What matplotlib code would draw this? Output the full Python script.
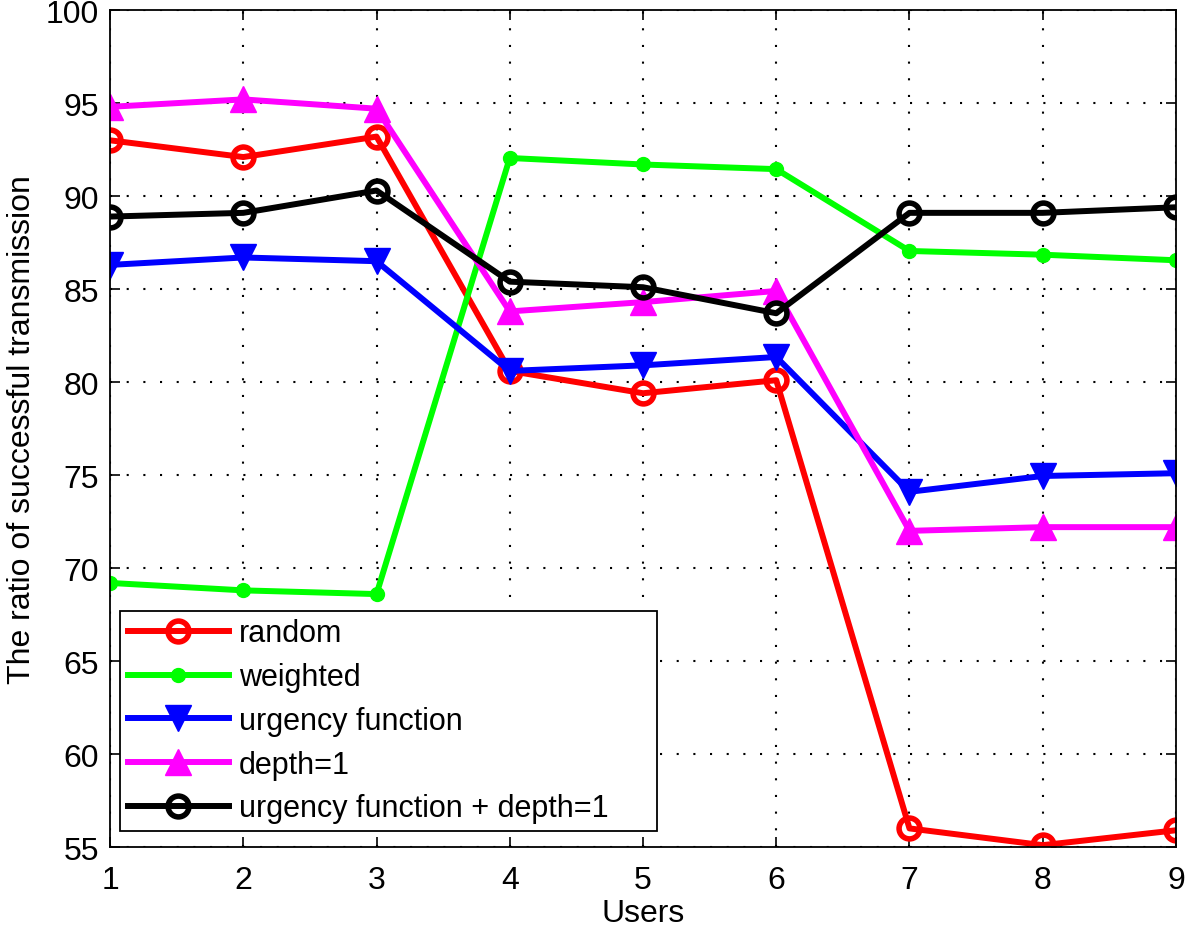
import matplotlib
matplotlib.use("Agg")
import matplotlib.pyplot as plt
import numpy as np

users = [1, 2, 3, 4, 5, 6, 7, 8, 9]
random_vals = [93.0, 92.1, 93.2, 80.6, 79.4, 80.1, 56.0, 55.1, 55.9]
weighted_vals = [69.2, 68.8, 68.6, 92.05, 91.7, 91.45, 87.05, 86.85, 86.55]
urgency_vals = [86.3, 86.7, 86.5, 80.6, 80.9, 81.35, 74.1, 74.95, 75.1]
depth_vals = [94.8, 95.2, 94.7, 83.8, 84.3, 84.9, 72.0, 72.2, 72.2]
urgency_depth_vals = [88.9, 89.1, 90.3, 85.4, 85.1, 83.7, 89.1, 89.1, 89.4]

plt.rcParams['font.family'] = ['Liberation Sans', 'DejaVu Sans']

fig = plt.figure(figsize=(11.87, 9.28), dpi=100)
ax = fig.add_axes([0.0927, 0.0862, 0.898, 0.9018])

lw = 4.3
ax.plot(users, random_vals, color="red", lw=lw, marker="o", ms=15,
        mfc="none", mew=4, label="random")
ax.plot(users, weighted_vals, color="#00ff00", lw=lw, marker="o", ms=10,
        label="weighted")
ax.plot(users, urgency_vals, color="blue", lw=lw, marker="v", ms=19,
        label="urgency function")
ax.plot(users, depth_vals, color="magenta", lw=lw, marker="^", ms=19,
        label="depth=1")
ax.plot(users, urgency_depth_vals, color="black", lw=lw, marker="o", ms=15,
        mfc="none", mew=4, label="urgency function + depth=1")

ax.set_xlim(1, 9)
ax.set_ylim(55, 100)
ax.set_xticks(users)
ax.set_yticks(np.arange(55, 101, 5))
ax.grid(True, color="black", linestyle=(0, (1, 7)), linewidth=1.5)
ax.tick_params(direction="in", top=True, right=True, labelsize=23, length=7,
               width=1.2)
ax.tick_params(axis="x", pad=13)
ax.tick_params(axis="y", pad=8)
ax.set_xlabel("Users", fontsize=23, labelpad=2)
ax.set_ylabel("The ratio of successful transmission", fontsize=23, labelpad=6)
for s in ax.spines.values():
    s.set_linewidth(1.3)

# matlab style legend box, extra room on the right
leg = ax.legend(loc="lower left", bbox_to_anchor=(0.0094, 0.019, 0.504, 0.26),
                mode="expand", fontsize=22, handlelength=3.3,
                handletextpad=0.35, fancybox=False, framealpha=1,
                edgecolor="black", borderpad=0.25, labelspacing=0.45,
                borderaxespad=0)
leg.get_frame().set_linewidth(1.3)

fig.savefig("out.png", dpi=100)
